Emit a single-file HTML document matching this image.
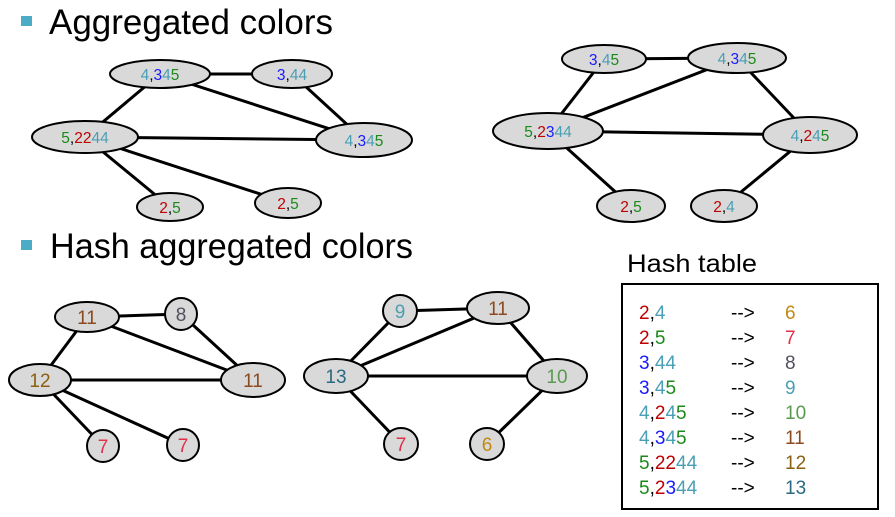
<!DOCTYPE html>
<html><head><meta charset="utf-8"><style>
html,body{margin:0;padding:0;background:#fff;}
svg{display:block;font-family:"Liberation Sans",Arial,sans-serif;}
</style></head><body>
<svg width="895" height="517" viewBox="0 0 895 517" xmlns="http://www.w3.org/2000/svg">
<defs><style>
.e{fill:#d9d9d9;stroke:#000;stroke-width:2}
.l{stroke:#000;stroke-width:3}
.t{font-size:15.5px;text-anchor:middle}
.h{font-size:19px;text-anchor:middle}
.r{fill:#c00000}.c{fill:#4a9fb5}.b{fill:#1a1aff}.g{fill:#1a8a1a}
.tb{font-size:19px}
</style></defs>
<!-- titles -->
<rect x="21" y="16" width="11" height="10" fill="#4bacc6"/>
<text x="49" y="34" font-size="35" textLength="284" lengthAdjust="spacingAndGlyphs">Aggregated colors</text>
<rect x="21" y="240" width="11" height="10" fill="#4bacc6"/>
<text x="50" y="258" font-size="35" textLength="363" lengthAdjust="spacingAndGlyphs">Hash aggregated colors</text>
<text x="627" y="272" font-size="25" textLength="130" lengthAdjust="spacingAndGlyphs">Hash table</text>

<!-- graph 1 -->
<g class="l">
<line x1="160" y1="74" x2="292" y2="74"/><line x1="160" y1="74" x2="85" y2="137"/>
<line x1="160" y1="74" x2="364" y2="140"/><line x1="292" y1="74" x2="364" y2="140"/>
<line x1="85" y1="137" x2="364" y2="140"/><line x1="85" y1="137" x2="170" y2="207"/>
<line x1="85" y1="137" x2="288" y2="203"/>
</g>
<ellipse class="e" cx="160" cy="74" rx="50" ry="14"/>
<ellipse class="e" cx="292" cy="74" rx="40" ry="14"/>
<ellipse class="e" cx="85" cy="137" rx="53" ry="16"/>
<ellipse class="e" cx="364" cy="140" rx="48" ry="17"/>
<ellipse class="e" cx="170" cy="207" rx="33" ry="14"/>
<ellipse class="e" cx="288" cy="203" rx="33" ry="15"/>
<text class="t" x="160" y="80"><tspan class="c">4</tspan>,<tspan class="b">3</tspan><tspan class="c">4</tspan><tspan class="g">5</tspan></text>
<text class="t" x="292" y="80"><tspan class="b">3</tspan>,<tspan class="c">44</tspan></text>
<text class="t" x="85" y="143"><tspan class="g">5</tspan>,<tspan class="r">22</tspan><tspan class="c">44</tspan></text>
<text class="t" x="364" y="146"><tspan class="c">4</tspan>,<tspan class="b">3</tspan><tspan class="c">4</tspan><tspan class="g">5</tspan></text>
<text class="t" x="170" y="213"><tspan class="r">2</tspan>,<tspan class="g">5</tspan></text>
<text class="t" x="288" y="209"><tspan class="r">2</tspan>,<tspan class="g">5</tspan></text>

<!-- graph 2 -->
<g class="l">
<line x1="604" y1="59" x2="737" y2="58"/><line x1="604" y1="59" x2="548" y2="131"/>
<line x1="737" y1="58" x2="548" y2="131"/><line x1="737" y1="58" x2="810" y2="135"/>
<line x1="548" y1="131" x2="810" y2="135"/><line x1="548" y1="131" x2="631" y2="206"/>
<line x1="810" y1="135" x2="724" y2="206"/>
</g>
<ellipse class="e" cx="604" cy="59" rx="42" ry="14"/>
<ellipse class="e" cx="737" cy="58" rx="49" ry="15"/>
<ellipse class="e" cx="548" cy="131" rx="55" ry="18"/>
<ellipse class="e" cx="810" cy="135" rx="47" ry="18"/>
<ellipse class="e" cx="631" cy="206" rx="34" ry="16"/>
<ellipse class="e" cx="724" cy="206" rx="33" ry="16"/>
<text class="t" x="604" y="65"><tspan class="b">3</tspan>,<tspan class="c">4</tspan><tspan class="g">5</tspan></text>
<text class="t" x="737" y="64"><tspan class="c">4</tspan>,<tspan class="b">3</tspan><tspan class="c">4</tspan><tspan class="g">5</tspan></text>
<text class="t" x="548" y="137"><tspan class="g">5</tspan>,<tspan class="r">2</tspan><tspan class="b">3</tspan><tspan class="c">44</tspan></text>
<text class="t" x="810" y="141"><tspan class="c">4</tspan>,<tspan class="r">2</tspan><tspan class="c">4</tspan><tspan class="g">5</tspan></text>
<text class="t" x="631" y="212"><tspan class="r">2</tspan>,<tspan class="g">5</tspan></text>
<text class="t" x="724" y="212"><tspan class="r">2</tspan>,<tspan class="c">4</tspan></text>

<!-- graph 3 -->
<g class="l">
<line x1="87" y1="317" x2="181" y2="314"/><line x1="87" y1="317" x2="40" y2="380"/>
<line x1="87" y1="317" x2="253" y2="380"/><line x1="181" y1="314" x2="253" y2="380"/>
<line x1="40" y1="380" x2="253" y2="380"/><line x1="40" y1="380" x2="103" y2="446"/>
<line x1="40" y1="380" x2="183" y2="445"/>
</g>
<ellipse class="e" cx="87" cy="317" rx="32" ry="15"/>
<ellipse class="e" cx="181" cy="314" rx="16" ry="16"/>
<ellipse class="e" cx="40" cy="380" rx="31" ry="16"/>
<ellipse class="e" cx="253" cy="380" rx="32" ry="17"/>
<ellipse class="e" cx="103" cy="446" rx="16" ry="16"/>
<ellipse class="e" cx="183" cy="445" rx="16" ry="16"/>
<text class="h" x="87" y="324" fill="#8b4a20">11</text>
<text class="h" x="181" y="321" fill="#505060">8</text>
<text class="h" x="40" y="387" fill="#8b6010">12</text>
<text class="h" x="253" y="387" fill="#8b4a20">11</text>
<text class="h" x="103" y="453" fill="#e0304a">7</text>
<text class="h" x="183" y="452" fill="#e0304a">7</text>

<!-- graph 4 -->
<g class="l">
<line x1="400" y1="311" x2="498" y2="308"/><line x1="400" y1="311" x2="336" y2="376"/>
<line x1="498" y1="308" x2="336" y2="376"/><line x1="498" y1="308" x2="557" y2="376"/>
<line x1="336" y1="376" x2="557" y2="376"/><line x1="336" y1="376" x2="401" y2="444"/>
<line x1="557" y1="376" x2="487" y2="444"/>
</g>
<ellipse class="e" cx="400" cy="311" rx="17" ry="16"/>
<ellipse class="e" cx="498" cy="308" rx="31" ry="16"/>
<ellipse class="e" cx="336" cy="376" rx="32" ry="17"/>
<ellipse class="e" cx="557" cy="376" rx="30" ry="17"/>
<ellipse class="e" cx="401" cy="444" rx="17" ry="16"/>
<ellipse class="e" cx="487" cy="444" rx="17" ry="16"/>
<text class="h" x="400" y="318" fill="#4a9fb5">9</text>
<text class="h" x="498" y="315" fill="#8b4a20">11</text>
<text class="h" x="336" y="383" fill="#2a6a80">13</text>
<text class="h" x="557" y="383" fill="#5a9a50">10</text>
<text class="h" x="401" y="451" fill="#e0304a">7</text>
<text class="h" x="487" y="451" fill="#c08a10">6</text>

<!-- hash table -->
<rect x="622" y="284" width="256" height="225" fill="none" stroke="#000" stroke-width="2"/>
<g class="tb">
<text x="639" y="319"><tspan class="r">2</tspan>,<tspan class="c">4</tspan></text>
<text x="639" y="344"><tspan class="r">2</tspan>,<tspan class="g">5</tspan></text>
<text x="639" y="369"><tspan class="b">3</tspan>,<tspan class="c">44</tspan></text>
<text x="639" y="394"><tspan class="b">3</tspan>,<tspan class="c">4</tspan><tspan class="g">5</tspan></text>
<text x="639" y="419"><tspan class="c">4</tspan>,<tspan class="r">2</tspan><tspan class="c">4</tspan><tspan class="g">5</tspan></text>
<text x="639" y="444"><tspan class="c">4</tspan>,<tspan class="b">3</tspan><tspan class="c">4</tspan><tspan class="g">5</tspan></text>
<text x="639" y="469"><tspan class="g">5</tspan>,<tspan class="r">22</tspan><tspan class="c">44</tspan></text>
<text x="639" y="494"><tspan class="g">5</tspan>,<tspan class="r">2</tspan><tspan class="b">3</tspan><tspan class="c">44</tspan></text>
<text x="731" y="319">--&gt;</text><text x="731" y="344">--&gt;</text>
<text x="731" y="369">--&gt;</text><text x="731" y="394">--&gt;</text>
<text x="731" y="419">--&gt;</text><text x="731" y="444">--&gt;</text>
<text x="731" y="469">--&gt;</text><text x="731" y="494">--&gt;</text>
<text x="785" y="319" fill="#c08a10">6</text>
<text x="785" y="344" fill="#e0304a">7</text>
<text x="785" y="369" fill="#505060">8</text>
<text x="785" y="394" fill="#4a9fb5">9</text>
<text x="785" y="419" fill="#5a9a50">10</text>
<text x="785" y="444" fill="#8b4a20">11</text>
<text x="785" y="469" fill="#8b6010">12</text>
<text x="785" y="494" fill="#2a6a80">13</text>
</g>
</svg>
</body></html>
